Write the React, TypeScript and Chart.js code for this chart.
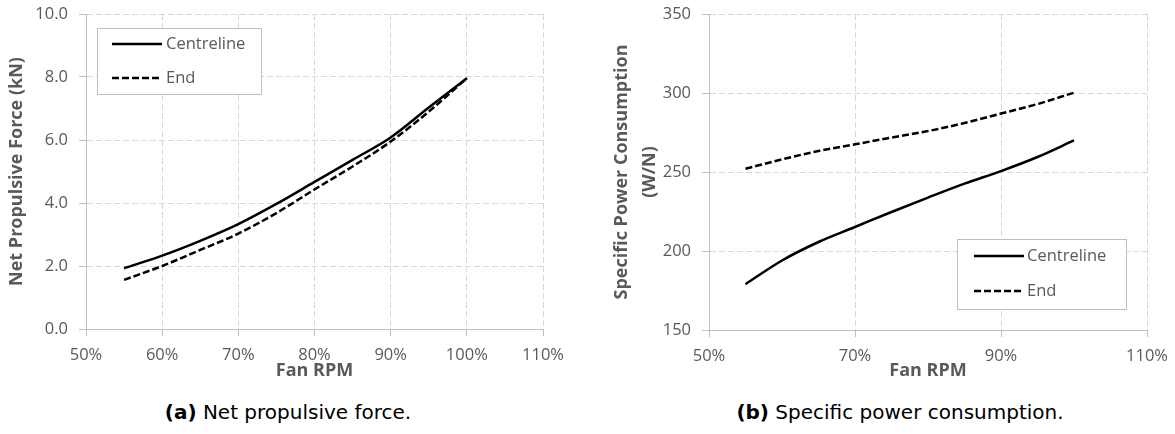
import React, { useEffect, useRef } from "react";
import { Chart, registerables } from "chart.js";

Chart.register(...registerables);

// ---- data ----
const rpm = [55, 60, 65, 70, 75, 80, 85, 90, 95, 100];
const forceCentreline = [1.93, 2.33, 2.8, 3.33, 3.97, 4.67, 5.37, 6.08, 7.03, 7.96];
const forceEnd = [1.56, 2.0, 2.51, 3.03, 3.68, 4.43, 5.16, 5.95, 6.9, 7.96];
const spcCentreline = [179, 194, 205.7, 215.2, 224.7, 233.8, 242.6, 250.6, 259.5, 270];
const spcEnd = [252.1, 258, 263.3, 267.5, 271.8, 275.9, 281, 287, 293, 300.2];
const seriesNames = ["Centreline", "End"];
const xTitle = "Fan RPM";
const leftYTitle = "Net Propulsive Force (kN)";
const rightYTitle = ["Specific Power Consumption", "(W/N)"];
const captionA = ["(a)", "Net propulsive force."];
const captionB = ["(b)", "Specific power consumption."];

const GRID = "#d9d9d9";
const AXIS = "#bfbfbf";
const TEXT = "#595959";
const FONT = '"Open Sans", sans-serif';

const boxLegend = {
  id: "boxLegend",
  afterDraw(chart: any, _args: any, opts: any) {
    const { ctx, chartArea } = chart;
    const { corner, offsetX, offsetY, width, height, rows, sampleInset, sampleLength, textGap } = opts;
    const left = corner === "topleft" ? chartArea.left + offsetX : chartArea.right - offsetX - width;
    const top = corner === "topleft" ? chartArea.top + offsetY : chartArea.bottom - offsetY - height;
    ctx.save();
    ctx.fillStyle = "#ffffff";
    ctx.fillRect(left, top, width, height);
    ctx.strokeStyle = AXIS;
    ctx.lineWidth = 1;
    ctx.setLineDash([]);
    ctx.strokeRect(Math.round(left) + 0.5, Math.round(top) + 0.5, width, height);
    chart.data.datasets.forEach((ds: any, i: number) => {
      const y = top + rows[i];
      ctx.beginPath();
      ctx.setLineDash(ds.borderDash || []);
      ctx.lineWidth = ds.borderWidth;
      ctx.strokeStyle = ds.borderColor;
      ctx.moveTo(left + sampleInset, y);
      ctx.lineTo(left + sampleInset + sampleLength, y);
      ctx.stroke();
      ctx.setLineDash([]);
      ctx.fillStyle = TEXT;
      ctx.font = `16.5px ${FONT}`;
      ctx.textBaseline = "middle";
      ctx.textAlign = "left";
      ctx.fillText(ds.label, left + sampleInset + sampleLength + textGap, y);
    });
    ctx.restore();
  },
};

function makeDatasets(a: number[], b: number[]) {
  return [
    {
      label: seriesNames[0],
      data: rpm.map((x, i) => ({ x, y: a[i] })),
      borderColor: "#000000",
      borderWidth: 2.5,
      pointRadius: 0,
      cubicInterpolationMode: "monotone",
      fill: false,
    },
    {
      label: seriesNames[1],
      data: rpm.map((x, i) => ({ x, y: b[i] })),
      borderColor: "#000000",
      borderWidth: 2.5,
      borderDash: [7, 3],
      pointRadius: 0,
      cubicInterpolationMode: "monotone",
      fill: false,
    },
  ];
}

function makeConfig(p: any): any {
  const tickFont = { family: FONT, size: 16.5 };
  const titleFont = { family: FONT, size: 18, weight: "bold" as const };
  return {
    type: "line",
    data: { datasets: p.datasets },
    plugins: [boxLegend],
    options: {
      animation: false,
      responsive: false,
      layout: { padding: { left: 0, top: p.padTop, right: p.padRight, bottom: 0 } },
      plugins: {
        legend: { display: false },
        tooltip: { enabled: false },
        boxLegend: p.legend,
      },
      scales: {
        x: {
          type: "linear",
          min: p.xMin,
          max: p.xMax,
          afterFit: (s: any) => {
            s.height = p.xHeight;
            s.paddingLeft = 0;
            s.paddingRight = 0;
          },
          ticks: {
            stepSize: p.xStep,
            color: TEXT,
            font: tickFont,
            padding: 9,
            maxRotation: 0,
            callback: (v: any) => `${v}%`,
          },
          grid: { color: GRID, tickColor: AXIS, tickLength: 7, tickBorderDash: [] },
          border: { color: AXIS, width: 1, dash: [6, 3] },
          title: {
            display: true,
            text: xTitle,
            color: TEXT,
            font: titleFont,
            padding: { top: 0, bottom: 8 },
          },
        },
        y: {
          min: p.yMin,
          max: p.yMax,
          afterFit: (s: any) => {
            s.width = p.yWidth;
            s.paddingTop = 0;
            s.paddingBottom = 0;
          },
          ticks: {
            stepSize: p.yStep,
            color: TEXT,
            font: tickFont,
            padding: 11,
            callback: p.yFmt,
          },
          grid: { color: GRID, tickColor: AXIS, tickLength: 7, tickBorderDash: [] },
          border: { color: AXIS, width: 1, dash: [6, 3] },
          title: {
            display: true,
            text: p.yTitle,
            color: TEXT,
            font: { ...titleFont, lineHeight: p.yTitleLH },
            padding: { top: p.yTitlePad, bottom: 0 },
          },
        },
      },
    },
  };
}

function ChartCanvas({ config, left, width, height }: any) {
  const ref = useRef<HTMLCanvasElement | null>(null);
  useEffect(() => {
    if (!ref.current) return;
    const chart = new Chart(ref.current, config);
    return () => chart.destroy();
  }, []);
  return (
    <canvas
      ref={ref}
      width={width}
      height={height}
      style={{ position: "absolute", left, top: 0, width, height }}
    />
  );
}

function Caption({ parts, center }: any) {
  return (
    <div
      style={{
        position: "absolute",
        left: center - 300,
        top: 402,
        width: 600,
        textAlign: "center",
        fontFamily: '"DejaVu Sans", sans-serif',
        fontSize: 20,
        lineHeight: "20px",
        color: "#000",
        whiteSpace: "nowrap",
      }}
    >
      <span style={{ fontWeight: "bold" }}>{parts[0]}</span> {parts[1]}
    </div>
  );
}

export default function App() {
  const leftConfig = makeConfig({
    datasets: makeDatasets(forceCentreline, forceEnd),
    padTop: 14,
    padRight: 37,
    xMin: 50,
    xMax: 110,
    xStep: 10,
    xHeight: 61,
    yMin: 0,
    yMax: 10,
    yStep: 2,
    yWidth: 86,
    yFmt: (v: any) => Number(v).toFixed(1),
    yTitle: leftYTitle,
    yTitleLH: 1.2,
    yTitlePad: 6.5,
    legend: {
      corner: "topleft",
      offsetX: 11,
      offsetY: 14,
      width: 164,
      height: 66,
      rows: [16, 50],
      sampleInset: 15,
      sampleLength: 50,
      textGap: 4,
    },
  });
  const rightConfig = makeConfig({
    datasets: makeDatasets(spcCentreline, spcEnd),
    padTop: 14,
    padRight: 28,
    xMin: 50,
    xMax: 110,
    xStep: 20,
    xHeight: 60,
    yMin: 150,
    yMax: 350,
    yStep: 50,
    yWidth: 129,
    yFmt: (v: any) => `${v}`,
    yTitle: rightYTitle,
    yTitleLH: 1.6,
    yTitlePad: 27,
    legend: {
      corner: "bottomright",
      offsetX: 21,
      offsetY: 21,
      width: 169,
      height: 70,
      rows: [17, 52],
      sampleInset: 17,
      sampleLength: 50,
      textGap: 3,
    },
  });
  return (
    <div
      style={{
        position: "absolute",
        left: 0,
        top: 0,
        width: 1175,
        height: 434,
        background: "#fff",
        overflow: "hidden",
      }}
    >
      <ChartCanvas config={leftConfig} left={0} width={580} height={390} />
      <ChartCanvas config={rightConfig} left={580} width={595} height={390} />
      <Caption parts={captionA} center={288} />
      <Caption parts={captionB} center={900} />
    </div>
  );
}
